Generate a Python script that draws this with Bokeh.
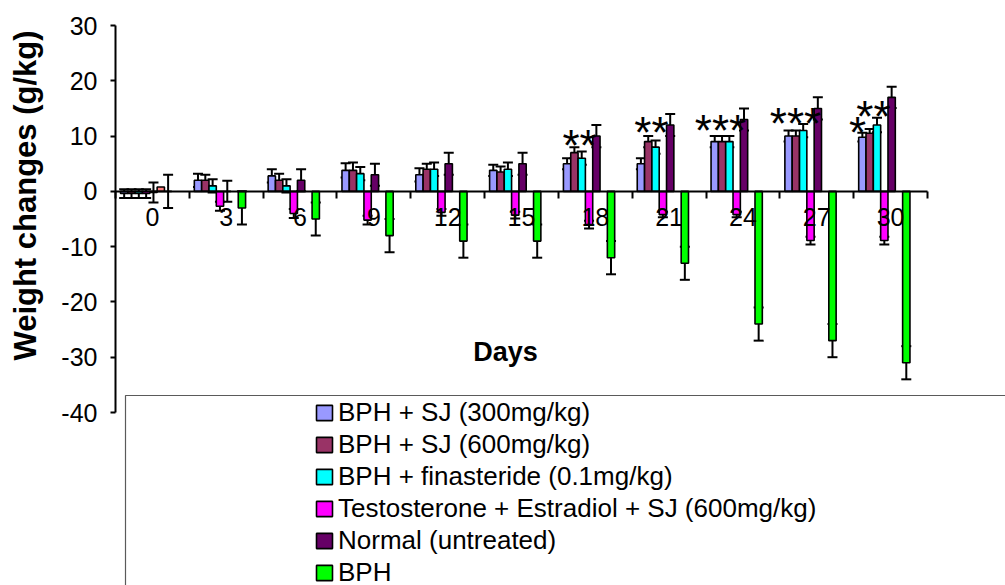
import numpy as np
from bokeh.plotting import figure
from bokeh.models import (Range1d, LinearAxis, FixedTicker, ColumnDataSource, Whisker,
                          TeeHead, Legend, LegendItem, Label)
from bokeh.core.properties import value
from bokeh.embed import file_html
from bokeh.resources import INLINE

# ---------------- data ----------------
days = ["0", "3", "6", "9", "12", "15", "18", "21", "24", "27", "30"]

series_names = [
    "BPH + SJ (300mg/kg)",
    "BPH + SJ (600mg/kg)",
    "BPH + finasteride (0.1mg/kg)",
    "Testosterone + Estradiol + SJ (600mg/kg)",
    "Normal (untreated)",
    "BPH",
]

sj300 = [-0.4, 2.0, 2.8, 3.8, 3.0, 3.8, 5.0, 5.0, 9.0, 10.0, 9.8]
sj300_err = [0.8, 1.2, 1.2, 1.3, 1.2, 1.0, 1.0, 1.0, 1.0, 1.0, 0.8]
sj600 = [-0.4, 2.0, 2.0, 3.8, 4.0, 3.5, 7.0, 9.0, 9.0, 10.0, 10.5]
sj600_err = [0.8, 1.0, 1.2, 1.4, 1.0, 1.0, 1.0, 1.0, 1.0, 1.0, 0.8]
finast = [-0.4, 1.0, 1.0, 3.2, 4.0, 4.0, 6.0, 8.0, 9.0, 11.0, 12.0]
finast_err = [0.8, 1.2, 1.2, 1.2, 1.2, 1.2, 1.2, 1.2, 1.0, 1.2, 1.3]
tesj = [-0.4, -2.7, -4.0, -5.2, -3.8, -4.3, -6.0, -4.2, -4.2, -8.9, -8.9]
tesj_err = [0.8, 0.8, 0.8, 0.8, 0.6, 0.6, 0.7, 0.5, 0.5, 0.7, 0.7]
normal = [-0.2, 0.0, 2.0, 3.0, 5.0, 5.0, 10.0, 12.0, 13.0, 15.0, 17.0]
normal_err = [1.8, 1.9, 2.0, 2.0, 2.0, 2.0, 2.0, 2.0, 2.0, 2.0, 1.9]
bph = [0.0, -3.0, -5.0, -8.0, -9.0, -9.0, -12.0, -13.0, -24.0, -27.0, -31.0]
bph_err = [3.0, 3.0, 3.0, 3.0, 3.0, 3.0, 3.0, 3.0, 3.0, 3.0, 3.0]
# extra series only present at day 0 (no legend entry visible)
extra_days = ["0"]
extra = [0.8]

# y tick labels (plain hyphen, as in the original)
y_ticks = [-40, -30, -20, -10, 0, 10, 20, 30]
y_tick_labels = ["-40", "-30", "-20", "-10", "0", "10", "20", "30"]

# significance marks
star_days = ["18", "21", "24", "27", "30", "30"]
star_text = ["**", "**", "***", "***", "*", "**"]
star_val = [9.6, 11.9, 12.3, 13.5, 11.9, 14.8]

# ---------------- styles / layout ----------------
colors = ["#9999FF", "#993366", "#00FFFF", "#FF00FF", "#660066", "#00FF00"]
extra_color = "#FF8080"
slots = [0, 1, 2, 3, 4, 6]
extra_slot = 5
slot_w = 0.0992
slot0 = -0.3825
star_dx = [-0.214, -0.239, -0.304, -0.288, -0.449, -0.232]

FONT = "Liberation Sans"
W, H = 1005, 585
cat_px = (927 - 115) / 11.0
ypx = (412 - 25) / 70.0
x0_canvas = 115
y0_canvas = 25 + 30 * ypx

p = figure(width=W, height=H, output_backend="svg", toolbar_location=None,
           x_range=Range1d(-x0_canvas / cat_px, (W - x0_canvas) / cat_px),
           y_range=Range1d(-(H - y0_canvas) / ypx, y0_canvas / ypx),
           x_axis_type=None, y_axis_type=None)
p.min_border = 0
p.min_border_left = 0
p.min_border_right = 0
p.min_border_top = 0
p.min_border_bottom = 0
p.outline_line_color = None
p.background_fill_color = "white"
p.border_fill_color = "white"
p.xgrid.visible = False
p.ygrid.visible = False

idx = {d: i for i, d in enumerate(days)}

# legend frame (box extends beyond the page bottom/right)
p.quad(left=[(125 - 115) / cat_px], right=[20], top=[(y0_canvas - 395) / ypx], bottom=[-200],
       fill_color=None, line_color="#5a5a5a", line_width=1.2)

all_vals = [sj300, sj600, finast, tesj, normal, bph]
all_errs = [sj300_err, sj600_err, finast_err, tesj_err, normal_err, bph_err]

renderers = []
whisker_sources = []
for k, (vals, errs) in enumerate(zip(all_vals, all_errs)):
    xs = np.array([idx[d] + 0.5 for d in days]) + slot0 + slot_w * slots[k]
    v = np.array(vals)
    e = np.array(errs)
    src = ColumnDataSource(dict(x=xs, top=v, up=v + e, lo=v - e))
    r = p.vbar(x="x", top="top", bottom=0, width=slot_w, source=src,
               fill_color=colors[k], line_color="black", line_width=1.6)
    renderers.append(r)
    whisker_sources.append(src)

xe = np.array([idx[d] + 0.5 for d in extra_days]) + slot0 + slot_w * extra_slot
p.vbar(x=xe, top=extra, bottom=0, width=slot_w, fill_color=extra_color,
       line_color="black", line_width=1.6)

for src in whisker_sources:
    w = Whisker(source=src, base="x", upper="up", lower="lo", dimension="height",
                line_color="black", line_width=2,
                upper_head=TeeHead(size=10, line_color="black", line_width=2),
                lower_head=TeeHead(size=10, line_color="black", line_width=2))
    p.add_layout(w)

# axes
yaxis = LinearAxis(fixed_location=0, bounds=(-40, 30), ticker=FixedTicker(ticks=y_ticks),
                   major_label_overrides={t: s for t, s in zip(y_ticks, y_tick_labels)})
yaxis.axis_line_color = "black"
yaxis.axis_line_width = 2
yaxis.major_tick_line_color = "black"
yaxis.major_tick_line_width = 2
yaxis.major_tick_out = 5
yaxis.major_tick_in = 0
yaxis.minor_tick_line_color = None
yaxis.major_label_standoff = 13
yaxis.major_label_text_font = FONT
yaxis.major_label_text_font_size = "25px"
yaxis.major_label_text_color = "black"
p.add_layout(yaxis, "left")

xaxis = LinearAxis(fixed_location=0, bounds=(0, 11), ticker=FixedTicker(ticks=list(range(0, 12))))
xaxis.axis_line_color = "black"
xaxis.axis_line_width = 2
xaxis.major_tick_line_color = "black"
xaxis.major_tick_line_width = 2
xaxis.major_tick_out = 7
xaxis.major_tick_in = 0
xaxis.minor_tick_line_color = None
xaxis.major_label_text_font_size = "0px"
xaxis.major_label_text_color = None
p.add_layout(xaxis, "below")

centers = [i + 0.5 for i in range(len(days))]
xlab = LinearAxis(fixed_location=0, ticker=FixedTicker(ticks=centers),
                  major_label_overrides={c: d for c, d in zip(centers, days)})
xlab.axis_line_color = None
xlab.major_tick_line_color = None
xlab.minor_tick_line_color = None
xlab.major_tick_out = 0
xlab.major_label_standoff = 17
xlab.major_label_text_font = FONT
xlab.major_label_text_font_size = "25px"
xlab.major_label_text_color = "black"
p.add_layout(xlab, "below")

# significance stars
sx = [idx[d] + 0.5 + dx for d, dx in zip(star_days, star_dx)]
p.text(x=sx, y=star_val, text=star_text, text_font=value(FONT), text_font_size="44px",
       text_align="center", text_baseline="alphabetic", y_offset=7, text_color="black")

# axis titles
p.add_layout(Label(x=(25 - 115) / cat_px, y=(y0_canvas - 195) / ypx, text="Weight changes (g/kg)",
                   angle=np.pi / 2, text_align="center", text_baseline="middle",
                   text_font=FONT, text_font_size="31px", text_font_style="bold", text_color="black"))
p.add_layout(Label(x=(505 - 115) / cat_px, y=(y0_canvas - 351) / ypx, text="Days",
                   text_align="center", text_baseline="middle",
                   text_font=FONT, text_font_size="27px", text_font_style="bold", text_color="black"))

legend = Legend(items=[LegendItem(label=n, renderers=[r]) for n, r in zip(series_names, renderers)],
                location=(314, H - 588), orientation="vertical")
legend.border_line_color = None
legend.background_fill_color = None
legend.background_fill_alpha = 0
legend.padding = 0
legend.margin = 0
legend.spacing = 0
legend.glyph_width = 20
legend.glyph_height = 19
legend.label_height = 32
legend.label_standoff = 4
legend.label_text_font = FONT
legend.label_text_font_size = "26px"
legend.label_text_color = "black"
legend.label_text_baseline = "middle"
p.add_layout(legend, "center")

open("out.html", "w").write(file_html(p, INLINE))
